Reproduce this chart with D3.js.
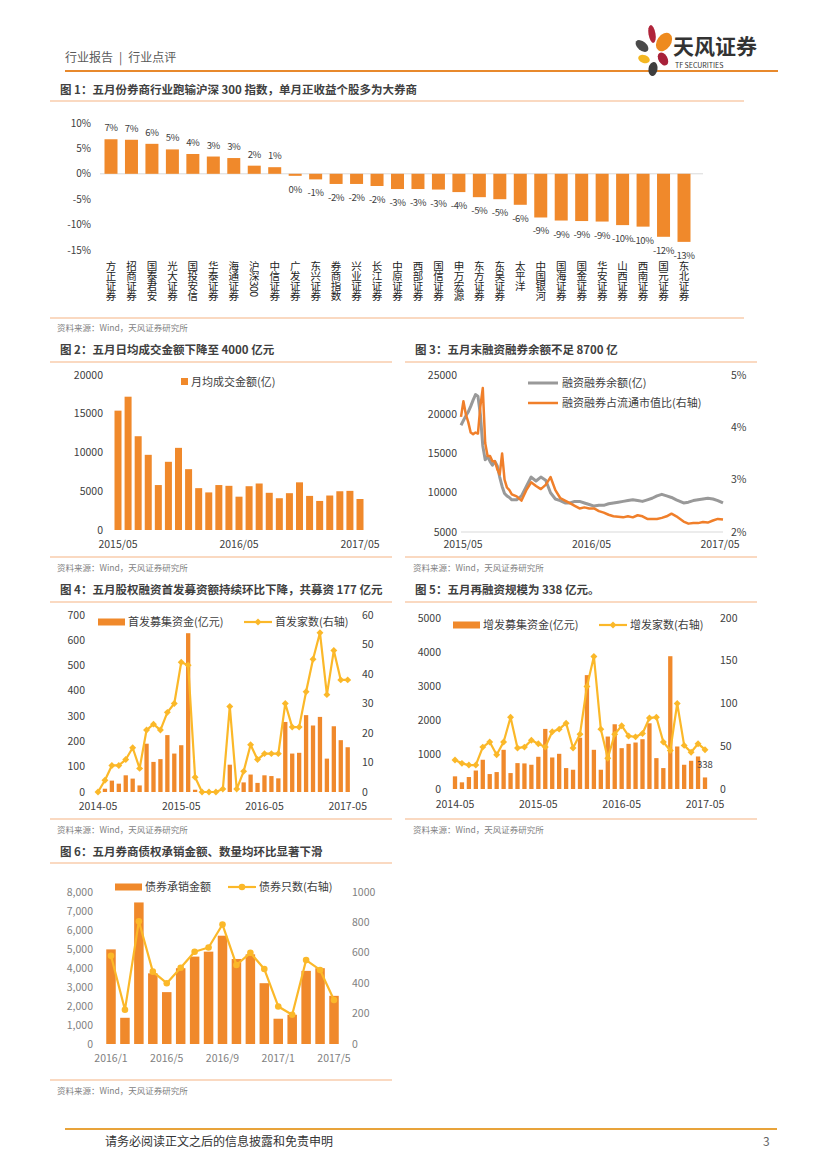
<!DOCTYPE html>
<html>
<head>
<meta charset="utf-8">
<script src="https://cdn.jsdelivr.net/npm/d3@7"></script>
<style>
  body { margin: 0; background: #fff; }
  text { font-family: "Noto Sans CJK SC", "Liberation Sans", sans-serif; }
  .vert { writing-mode: vertical-rl; text-orientation: mixed; }
</style>
</head>
<body>
<script>
// ---------- data ----------
// 图1: 五月券商个股涨跌幅 (%)
const brokerNames = ["方正证券","招商证券","国泰君安","光大证券","国投安信","华泰证券","海通证券","沪深300","中信证券",
  "广发证券","东兴证券","券商指数","兴业证券","长江证券","中原证券","西部证券","国信证券","申万宏源","东方证券",
  "东吴证券","太平洋","中国银河","国海证券","国金证券","华安证券","山西证券","西南证券","国元证券","东北证券"];
const brokerReturns = [6.8, 6.7, 5.9, 4.8, 3.9, 3.4, 3.1, 1.6, 1.3,
  -0.4, -1.1, -2.0, -2.0, -2.4, -3.0, -3.0, -3.1, -3.6, -4.6,
  -5.0, -6.1, -8.6, -9.2, -9.3, -9.4, -10.1, -10.4, -12.4, -13.4];
const returnTicks = [10, 5, 0, -5, -10, -15];

// 图2: 月均成交金额 (亿)
const turnoverMonths = ["2015/05","2015/06","2015/07","2015/08","2015/09","2015/10","2015/11","2015/12",
  "2016/01","2016/02","2016/03","2016/04","2016/05","2016/06","2016/07","2016/08","2016/09","2016/10",
  "2016/11","2016/12","2017/01","2017/02","2017/03","2017/04","2017/05"];
const turnoverValues = [15400, 17200, 12100, 9700, 5800, 8800, 10600, 7850, 5400, 4850, 5800, 5700, 4300,
  5650, 6000, 4800, 4100, 4750, 6150, 4400, 3750, 4450, 5000, 5050, 4000];
const turnoverTicks = [0, 5000, 10000, 15000, 20000];
const turnoverLabels = ["2015/05", "2016/05", "2017/05"];

// 图3: 融资融券余额 (亿) 与占流通市值比 (%)
const marginDates = ["2015-05-04","2015-05-11","2015-05-18","2015-05-25","2015-06-01","2015-06-08","2015-06-15",
  "2015-06-22","2015-06-29","2015-07-06","2015-07-13","2015-07-20","2015-07-27","2015-08-03","2015-08-10",
  "2015-08-17","2015-08-24","2015-08-31","2015-09-07","2015-09-14","2015-09-21","2015-09-28","2015-10-12",
  "2015-10-26","2015-11-09","2015-11-23","2015-12-07","2015-12-21","2016-01-04","2016-01-18","2016-02-01",
  "2016-02-15","2016-02-29","2016-03-14","2016-03-28","2016-04-11","2016-04-25","2016-05-09","2016-05-23",
  "2016-06-06","2016-06-20","2016-07-04","2016-07-18","2016-08-01","2016-08-15","2016-08-29","2016-09-12",
  "2016-09-26","2016-10-10","2016-10-24","2016-11-07","2016-11-21","2016-12-05","2016-12-19","2017-01-02",
  "2017-01-16","2017-02-06","2017-02-20","2017-03-06","2017-03-20","2017-04-03","2017-04-17","2017-05-02",
  "2017-05-16","2017-05-31"];
const marginBalance = [18600, 19200, 19800, 20300, 21000, 21800, 22500, 22300, 20000, 16000,
  14200, 14600, 14000, 13500, 14000, 13400, 12000, 10800, 9900, 9600,
  9400, 9100, 9100, 9600, 10800, 12000, 11500, 12000, 11600, 10000,
  9200, 9000, 8700, 8700, 8900, 8900, 8700, 8500, 8300, 8400,
  8400, 8600, 8700, 8800, 8900, 9000, 9100, 9000, 8900, 9100,
  9300, 9600, 9800, 9600, 9400, 9100, 8700, 8800, 9000, 9100,
  9200, 9300, 9200, 9000, 8700];
const marginRatio = [4.2, 4.5, 4.25, 4.1, 3.9, 3.87, 3.9, 3.88, 4.4, 4.75,
  3.7, 3.45, 3.45, 3.35, 3.35, 3.2, 3.1, 3.5, 3.0, 2.85,
  2.8, 2.72, 2.68, 2.6, 2.8, 2.95, 2.88, 2.82, 2.9, 3.05,
  2.8, 2.65, 2.6, 2.55, 2.5, 2.45, 2.47, 2.45, 2.45, 2.4,
  2.37, 2.33, 2.3, 2.29, 2.28, 2.3, 2.28, 2.32, 2.3, 2.25,
  2.25, 2.25, 2.27, 2.3, 2.35, 2.3, 2.2, 2.16, 2.17, 2.17,
  2.19, 2.18, 2.22, 2.25, 2.24];
const marginTicksL = [5000, 10000, 15000, 20000, 25000];
const marginTicksR = [2, 3, 4, 5];
const marginLabels = ["2015/05", "2016/05", "2017/05"];

// 图4 / 图5: 2014-05 ~ 2017-05
const equityMonths = ["2014-05","2014-06","2014-07","2014-08","2014-09","2014-10","2014-11","2014-12",
  "2015-01","2015-02","2015-03","2015-04","2015-05","2015-06","2015-07","2015-08","2015-09","2015-10",
  "2015-11","2015-12","2016-01","2016-02","2016-03","2016-04","2016-05","2016-06","2016-07","2016-08",
  "2016-09","2016-10","2016-11","2016-12","2017-01","2017-02","2017-03","2017-04","2017-05"];
const ipoAmount = [0, 13, 45, 33, 66, 53, 26, 191, 119, 130, 225, 152, 185, 628, 9, 0, 0, 0, 0, 108,
  0, 38, 69, 36, 66, 63, 54, 277, 152, 155, 304, 263, 297, 132, 260, 205, 177];
const ipoCount = [0, 4, 9, 9, 11, 15, 8, 21, 23, 21, 27, 30, 44, 43, 5, 0, 0, 0, 1, 29,
  1, 7, 16, 11, 13, 13, 13, 30, 22, 22, 34, 45, 54, 33, 48, 38, 38];
const seoAmount = [370, 195, 350, 540, 855, 437, 495, 1146, 466, 757, 748, 709, 942, 1757, 922, 1029,
  612, 563, 1500, 3330, 1146, 563, 1534, 1893, 1194, 1320, 1359, 1456, 1922, 903, 612, 3883,
  1243, 709, 825, 951, 338];
const seoCount = [34, 30, 28, 28, 49, 55, 40, 55, 84, 48, 49, 57, 53, 49, 67, 70, 77, 48, 64, 120,
  155, 70, 36, 64, 74, 62, 61, 65, 83, 84, 55, 45, 100, 51, 43, 53, 46];
const equityLabels = ["2014-05", "2015-05", "2016-05", "2017-05"];

// 图6: 债券承销
const bondMonths = ["2016/1","2016/2","2016/3","2016/4","2016/5","2016/6","2016/7","2016/8","2016/9",
  "2016/10","2016/11","2016/12","2017/1","2017/2","2017/3","2017/4","2017/5"];
const bondAmount = [4980, 1380, 7450, 3720, 2730, 3990, 4600, 4860, 5700, 4475, 4720, 3200, 1330, 1540, 3850, 3990, 2535];
const bondCount = [580, 225, 808, 476, 400, 502, 607, 635, 786, 520, 600, 493, 247, 192, 552, 487, 290];
const bondLabels = ["2016/1", "2016/5", "2016/9", "2017/1", "2017/5"];

// ---------- page ----------
const BAR = "#F0892B", LINE = "#FBB829", GRAY_LINE = "#999999", INK = "#404040", RULE = "#F5B383";

const svg = d3.select("body").append("svg").attr("width", 827).attr("height", 1169);

function hline(x1, x2, y, color, w) {
  svg.append("line").attr("x1", x1).attr("x2", x2).attr("y1", y).attr("y2", y)
    .attr("stroke", color).attr("stroke-width", w || 1);
}
function title(x, y, t) {
  svg.append("text").attr("x", x).attr("y", y).attr("font-size", 11.5).attr("font-weight", "bold")
    .attr("fill", INK).text(t);
}
function source(x, y) {
  svg.append("text").attr("x", x).attr("y", y).attr("font-size", 8.5).attr("fill", "#7F7F7F")
    .text("资料来源：Wind，天风证券研究所");
}

// header
svg.append("text").attr("x", 65).attr("y", 62).attr("font-size", 12).attr("fill", "#595959")
  .text("行业报告\u2002|\u2002行业点评");
hline(65, 778, 71, "#E8892C", 2);
const petals = [
  { cx: 652, cy: 34, rx: 3.5, ry: 9, r: -10, c: "#B0243A" },
  { cx: 664, cy: 42, rx: 7, ry: 10, r: 35, c: "#EE8A1E" },
  { cx: 642, cy: 46, rx: 4.5, ry: 7.5, r: -50, c: "#4A4A4A" },
  { cx: 644, cy: 59, rx: 6, ry: 4, r: 20, c: "#F4B722" },
  { cx: 663, cy: 59, rx: 4.5, ry: 7, r: -30, c: "#A8213A" },
  { cx: 653, cy: 69, rx: 4.5, ry: 7, r: 10, c: "#3E3E3E" }
];
svg.selectAll("ellipse.petal").data(petals).join("ellipse")
  .attr("transform", d => `translate(${d.cx},${d.cy}) rotate(${d.r})`)
  .attr("rx", d => d.rx).attr("ry", d => d.ry).attr("fill", d => d.c);
svg.append("text").attr("x", 673).attr("y", 54).attr("font-size", 21).attr("font-weight", "bold")
  .attr("fill", "#333").text("天风证券");
svg.append("text").attr("x", 675).attr("y", 68).attr("font-size", 7).attr("fill", "#333").text("TF SECURITIES");

// footer
hline(65, 777, 1129, "#E8A33A", 2);
svg.append("text").attr("x", 105).attr("y", 1146).attr("font-size", 12).attr("fill", "#333")
  .text("请务必阅读正文之后的信息披露和免责申明");
svg.append("text").attr("x", 763).attr("y", 1146).attr("font-size", 12).attr("fill", "#666").text("3");

// ---------- 图1 ----------
title(60, 94, "图 1：五月份券商行业跑输沪深 300 指数，单月正收益个股多为大券商");
hline(50, 744, 101, RULE);
{
  const g = svg.append("g");
  const x = d3.scalePoint().domain(brokerNames).range([111, 684]);
  const y = d3.scaleLinear().domain([-15, 10]).range([250, 123]);
  const bw = 13;

  g.append("line").attr("x1", 100).attr("x2", 703).attr("y1", y(0)).attr("y2", y(0))
    .attr("stroke", "#D9D9D9");

  g.selectAll("text.tick").data(returnTicks).join("text")
    .attr("x", 91).attr("y", d => y(d) + 3.5).attr("text-anchor", "end")
    .attr("font-size", 10).attr("fill", INK).text(d => d + "%");

  g.selectAll("rect").data(brokerReturns).join("rect")
    .attr("x", (d, i) => x(brokerNames[i]) - bw / 2)
    .attr("y", d => y(Math.max(0, d)))
    .attr("width", bw)
    .attr("height", d => Math.abs(y(d) - y(0)))
    .attr("fill", BAR);

  g.selectAll("text.val").data(brokerReturns).join("text")
    .attr("x", (d, i) => x(brokerNames[i]))
    .attr("y", d => d >= 0 ? y(d) - 8 : y(d) + 17)
    .attr("text-anchor", "middle").attr("font-size", 9.5).attr("letter-spacing", -0.4).attr("fill", INK)
    .text(d => `${Math.round(d)}%`);

  // vertical category labels (top-to-bottom writing)
  g.selectAll("text.cat").data(brokerNames).join("text")
    .attr("class", "vert")
    .attr("x", d => x(d)).attr("y", 261)
    .attr("font-size", 10.5).attr("letter-spacing", -0.6).attr("fill", "#222")
    .text(d => d);
}
hline(50, 744, 318, RULE);
source(57, 331);

// ---------- 图2 ----------
title(60, 354, "图 2：五月日均成交金额下降至 4000 亿元");
hline(50, 392, 362, RULE);
{
  const g = svg.append("g");
  const x = d3.scalePoint().domain(turnoverMonths).range([118, 360]);
  const y = d3.scaleLinear().domain([0, 20000]).range([530, 375]);
  const bw = 7;
  g.selectAll("rect").data(turnoverValues).join("rect")
    .attr("x", (d, i) => x(turnoverMonths[i]) - bw / 2)
    .attr("y", d => y(d)).attr("width", bw).attr("height", d => y(0) - y(d)).attr("fill", BAR);
  g.selectAll("text.tick").data(turnoverTicks).join("text")
    .attr("x", 103).attr("y", d => y(d) + 3.5).attr("text-anchor", "end")
    .attr("font-size", 10.5).attr("fill", INK).text(d => d);
  g.selectAll("text.xl").data(turnoverLabels).join("text")
    .attr("x", d => x(d)).attr("y", 548).attr("text-anchor", "middle")
    .attr("font-size", 10.5).attr("fill", INK).text(d => d);
  g.append("rect").attr("x", 181).attr("y", 378).attr("width", 7).attr("height", 7).attr("fill", BAR);
  g.append("text").attr("x", 191).attr("y", 386).attr("font-size", 11).attr("fill", INK).text("月均成交金额(亿)");
}
hline(50, 392, 557, RULE);
source(57, 571);

// ---------- 图3 ----------
title(415, 354, "图 3：五月末融资融券余额不足 8700 亿");
hline(405, 757, 362, RULE);
{
  const g = svg.append("g");
  const dates = marginDates.map(d3.timeParse("%Y-%m-%d"));
  const x = d3.scaleTime().domain(d3.extent(dates)).range([461, 723]);
  const yL = d3.scaleLinear().domain([5000, 25000]).range([532, 375]);
  const yR = d3.scaleLinear().domain([2, 5]).range([532, 375]);
  const xl = d3.scalePoint().domain(marginLabels).range([463, 720]);

  g.append("line").attr("x1", 461).attr("x2", 723).attr("y1", 532).attr("y2", 532).attr("stroke", "#D9D9D9");
  g.selectAll("text.tl").data(marginTicksL).join("text")
    .attr("x", 457).attr("y", d => yL(d) + 3.5).attr("text-anchor", "end")
    .attr("font-size", 10.5).attr("fill", INK).text(d => d);
  g.selectAll("text.tr").data(marginTicksR).join("text")
    .attr("x", 731).attr("y", d => yR(d) + 3.5)
    .attr("font-size", 10.5).attr("fill", INK).text(d => d + "%");
  g.selectAll("text.xl").data(marginLabels).join("text")
    .attr("x", d => xl(d)).attr("y", 548).attr("text-anchor", "middle")
    .attr("font-size", 10.5).attr("fill", INK).text(d => d);

  g.append("path").datum(marginBalance)
    .attr("d", d3.line().x((d, i) => x(dates[i])).y(d => yL(d)))
    .attr("fill", "none").attr("stroke", GRAY_LINE).attr("stroke-width", 3).attr("stroke-linejoin", "round");
  g.append("path").datum(marginRatio)
    .attr("d", d3.line().x((d, i) => x(dates[i])).y(d => yR(d)))
    .attr("fill", "none").attr("stroke", "#F07F2A").attr("stroke-width", 2.5).attr("stroke-linejoin", "round");

  g.append("line").attr("x1", 528).attr("x2", 558).attr("y1", 383).attr("y2", 383)
    .attr("stroke", GRAY_LINE).attr("stroke-width", 3);
  g.append("text").attr("x", 562).attr("y", 387).attr("font-size", 11).attr("fill", INK).text("融资融券余额(亿)");
  g.append("line").attr("x1", 528).attr("x2", 558).attr("y1", 403).attr("y2", 403)
    .attr("stroke", "#F07F2A").attr("stroke-width", 2.5);
  g.append("text").attr("x", 562).attr("y", 407).attr("font-size", 11).attr("fill", INK).text("融资融券占流通市值比(右轴)");
}
hline(405, 757, 557, RULE);
source(413, 571);

// ---------- combo bar + line charts ----------
function combo(o) {
  const g = svg.append("g");
  const x = d3.scalePoint().domain(o.cats).range(o.xRange);
  const yL = d3.scaleLinear().domain([0, o.leftMax]).range(o.yRange);
  const yR = d3.scaleLinear().domain([0, o.rightMax]).range(o.yRange);

  g.selectAll("rect.bar").data(o.bars).join("rect")
    .attr("x", (d, i) => x(o.cats[i]) - o.barW / 2)
    .attr("y", d => yL(d)).attr("width", o.barW)
    .attr("height", d => yL(0) - yL(d)).attr("fill", BAR);

  g.append("path").datum(o.line)
    .attr("d", d3.line().x((d, i) => x(o.cats[i])).y(d => yR(d)))
    .attr("fill", "none").attr("stroke", LINE).attr("stroke-width", 2.2).attr("stroke-linejoin", "round");

  const sym = o.marker === "circle" ? d3.symbol(d3.symbolCircle, 34) : d3.symbol(d3.symbolSquare, 24);
  const rot = o.marker === "circle" ? 0 : 45;
  g.selectAll("path.mk").data(o.line).join("path")
    .attr("transform", (d, i) => `translate(${x(o.cats[i])},${yR(d)}) rotate(${rot})`)
    .attr("d", sym).attr("fill", LINE);

  g.selectAll("text.tl").data(d3.range(0, o.leftMax + 1, o.leftStep)).join("text")
    .attr("x", o.leftX).attr("y", d => yL(d) + 3.5).attr("text-anchor", "end")
    .attr("font-size", 10.5).attr("fill", o.tickColor).text(o.leftFmt);
  g.selectAll("text.tr").data(d3.range(0, o.rightMax + 1, o.rightStep)).join("text")
    .attr("x", o.rightX).attr("y", d => yR(d) + 3.5)
    .attr("font-size", 10.5).attr("fill", o.tickColor).text(d => d);
  g.selectAll("text.xl").data(o.xLabels).join("text")
    .attr("x", d => x(d)).attr("y", o.xLabelY).attr("text-anchor", "middle")
    .attr("font-size", 10.5).attr("fill", o.tickColor).text(d => d);

  // legend
  const L = o.legend;
  g.append("rect").attr("x", L.barX).attr("y", L.y - 3.5).attr("width", 27).attr("height", 7).attr("fill", BAR);
  g.append("text").attr("x", L.barX + 30).attr("y", L.y + 4).attr("font-size", 11).attr("fill", INK).text(L.barText);
  g.append("line").attr("x1", L.lineX).attr("x2", L.lineX + 28).attr("y1", L.y).attr("y2", L.y)
    .attr("stroke", LINE).attr("stroke-width", 2.2);
  g.append("path").attr("transform", `translate(${L.lineX + 14},${L.y}) rotate(${rot})`).attr("d", sym).attr("fill", LINE);
  g.append("text").attr("x", L.lineX + 31).attr("y", L.y + 4).attr("font-size", 11).attr("fill", INK).text(L.lineText);

  return { g, x, yL, yR };
}

// ---------- 图4 ----------
title(60, 594, "图 4：五月股权融资首发募资额持续环比下降，共募资 177 亿元");
hline(50, 392, 602, RULE);
combo({
  cats: equityMonths, bars: ipoAmount, line: ipoCount,
  xRange: [98, 347.7], yRange: [792, 615],
  leftMax: 700, leftStep: 100, rightMax: 60, rightStep: 10,
  barW: 4.3, leftX: 85, rightX: 362, leftFmt: d => d, tickColor: INK,
  xLabels: equityLabels, xLabelY: 810, marker: "diamond",
  legend: { y: 622, barX: 98, barText: "首发募集资金(亿元)", lineX: 244, lineText: "首发家数(右轴)" }
});
hline(50, 392, 819, RULE);
source(57, 833);

// ---------- 图5 ----------
title(415, 594, "图 5：五月再融资规模为 338 亿元。");
hline(405, 757, 602, RULE);
{
  const c = combo({
    cats: equityMonths, bars: seoAmount, line: seoCount,
    xRange: [455, 705], yRange: [789, 618],
    leftMax: 5000, leftStep: 1000, rightMax: 200, rightStep: 50,
    barW: 4.3, leftX: 441, rightX: 720, leftFmt: d => d, tickColor: INK,
    xLabels: equityLabels, xLabelY: 808, marker: "diamond",
    legend: { y: 625, barX: 453, barText: "增发募集资金(亿元)", lineX: 599, lineText: "增发家数(右轴)" }
  });
  const last = seoAmount.length - 1;
  c.g.append("text").attr("x", c.x(equityMonths[last])).attr("y", c.yL(seoAmount[last]) - 9)
    .attr("text-anchor", "middle").attr("font-size", 9.5).attr("fill", INK).text(seoAmount[last]);
}
hline(405, 757, 819, RULE);
source(413, 833);

// ---------- 图6 ----------
title(60, 856, "图 6：五月券商债权承销金额、数量均环比显著下滑");
hline(50, 392, 863, RULE);
combo({
  cats: bondMonths, bars: bondAmount, line: bondCount,
  xRange: [111, 334], yRange: [1044, 892],
  leftMax: 8000, leftStep: 1000, rightMax: 1000, rightStep: 200,
  barW: 9.5, leftX: 93, rightX: 352, leftFmt: d3.format(","), tickColor: "#7F7F7F",
  xLabels: bondLabels, xLabelY: 1062, marker: "circle",
  legend: { y: 887, barX: 115, barText: "债券承销金额", lineX: 228, lineText: "债券只数(右轴)" }
});
hline(50, 392, 1080, RULE);
source(57, 1094);
</script>
</body>
</html>
